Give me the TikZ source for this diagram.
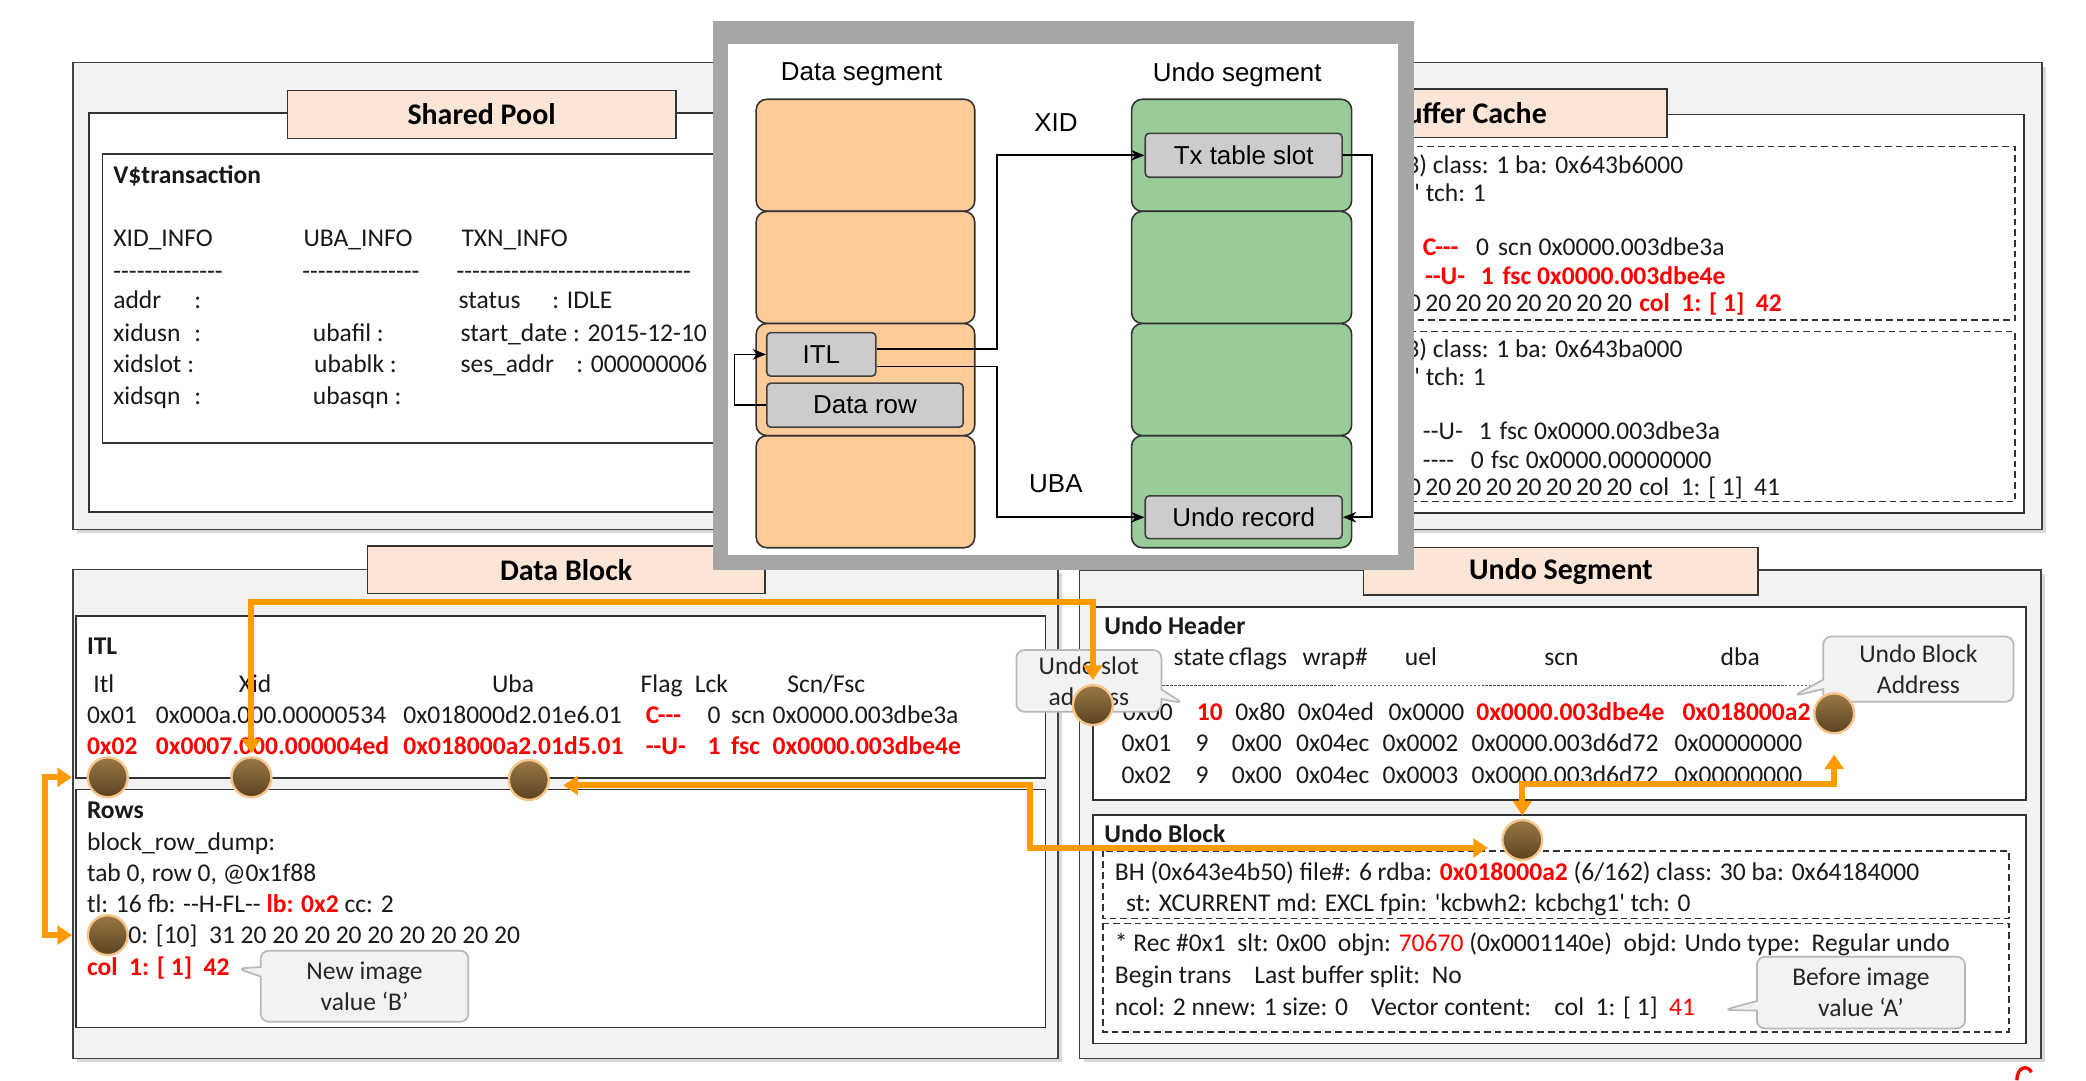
\documentclass[tikz,border=0pt]{standalone}
\usepackage{fontspec}
\newfontfamily\calf{Carlito}
\newfontfamily\arialf{Liberation Sans}
\usetikzlibrary{calc}
\usetikzlibrary{arrows.meta}
\usetikzlibrary{shapes.callouts,shadows}

\definecolor{panelgray}{HTML}{F2F2F2}
\definecolor{tabpeach}{HTML}{FBE5D6}
\definecolor{hotred}{HTML}{FF0000}
\definecolor{orangeC}{HTML}{FF9A00}
\definecolor{ballhi}{HTML}{9A7845}
\definecolor{balllo}{HTML}{5A4220}
\definecolor{ballrim}{HTML}{F6C58A}
\definecolor{segorange}{HTML}{FFCC99}
\definecolor{seggreen}{HTML}{99CC99}
\definecolor{boxgray}{HTML}{CCCCCC}
\definecolor{framegray}{HTML}{A6A6A6}

\newcommand{\fld}[2]{\makebox[#1pt][l]{#2}}
\newcommand{\hot}[1]{{\color{hotred}\bfseries #1}}
\newcommand{\redt}[1]{{\color{hotred}#1}}

\tikzset{
  panel/.style={draw=black!75, fill=panelgray, line width=1.3pt,
    drop shadow={shadow xshift=3pt, shadow yshift=-3pt, opacity=.3}},
  inbox/.style={draw=black!80, fill=white, line width=1.3pt},
  dashbox/.style={draw=black!80, line width=1.2pt, dash pattern=on 5pt off 3pt},
  tab/.style={draw=black!80, fill=tabpeach, line width=1.2pt,
    font=\calf\bfseries\fontsize{22.5}{26}\selectfont},
  tx/.style={anchor=west, inner sep=0pt, text height=12pt, text depth=2pt,
    text=black!90, font=\calf\fontsize{19.2}{22}\selectfont},
  bt/.style={tx, font=\calf\bfseries\fontsize{19.2}{22}\selectfont},
  hottx/.style={tx, text=hotred, font=\calf\bfseries\fontsize{19.2}{22}\selectfont},
  callbox/.style={rectangle callout, rounded corners=6pt, draw=black!28, fill=panelgray,
    line width=1.3pt, align=center, inner sep=0pt, text=black!85,
    font=\calf\fontsize{19.2}{23.5}\selectfont},
  ball/.style={circle, minimum size=30pt, inner sep=0pt, draw=ballrim, line width=1.8pt,
    top color=ballhi, bottom color=balllo},
  orangeline/.style={draw=orangeC, line width=4.5pt,
    {Triangle[length=11pt,width=14pt]}-{Triangle[length=11pt,width=14pt]}},
  segblk/.style={draw=black!80, line width=1.2pt, rounded corners=8pt},
  gbox/.style={draw=black!75, fill=boxgray, line width=1.2pt, rounded corners=3pt,
    font=\arialf\fontsize{19.5}{22}\selectfont},
  segtitle/.style={font=\arialf\fontsize{19.5}{22}\selectfont, inner sep=0pt},
  segarrow/.style={draw=black, line width=1.2pt, -{Stealth[length=10pt,width=8pt]}},
}

\begin{document}
\begin{tikzpicture}[x=1pt,y=-1pt]
\fill[white] (0,0) rectangle (1568,812);
\useasboundingbox (0,0) rectangle (1568,812);

% shared pool
\draw[panel] (55,47) rectangle (790,398);
\draw[inbox] (67,85) rectangle (780,385);
\node[tab, minimum width=292pt, minimum height=36pt] (sptab) at (362,86) {Shared Pool};
\draw[inbox] (77,116) rectangle (770,333);
\node[bt] (vtx) at (85,133) {V\$transaction};
\node[tx] (sphead) at (85,180.6) {\fld{143}{XID\_INFO}\fld{118.7}{UBA\_INFO}TXN\_INFO};
\node[tx] (spdash) at (85,205) {\fld{142}{--------------}\fld{116}{---------------}------------------------------};
\node[tx] (spaddr) at (85,227) {\fld{259.5}{\fld{61}{addr}:}\fld{70.5}{status}: IDLE};
\node[tx] (spusn) at (85,252) {\fld{150}{\fld{61}{xidusn}:}\fld{111}{ubafil :}start\_date : 2015-12-10};
\node[tx] (spslot) at (85,275) {\fld{151}{xidslot :}\fld{110}{ubablk :}\fld{87}{ses\_addr}: 000000006};
\node[tx] (spsqn) at (85,299) {\fld{150}{\fld{61}{xidsqn}:}ubasqn :};

% buffer cache
\draw[panel] (800,47) rectangle (1535,398);
\draw[inbox] (812,86) rectangle (1521.5,385.8);
\node[tab, minimum width=298.5pt, minimum height=36.4pt] (bctab) at (1103.7,85.3) {Buffer Cache};
\draw[dashbox, fill=white] (820,110.2) rectangle (1514.6,240.5);
\draw[dashbox, fill=white] (820,249.3) rectangle (1514.6,377);
\node[tx] (bc1) at (1057,125.3) {3) class: 1 ba: 0x643b6000};
\node[tx] (bc2) at (1063,146.5) {' tch: 1};
\node[tx] (bc3) at (1069.4,187.4) {\fld{39.9}{\hot{C---}}\fld{16.6}{0}\fld{30.5}{scn}0x0000.003dbe3a};
\node[hottx] (bc4) at (1071,208.7) {\fld{42}{--U-}\fld{16.3}{1}\fld{26}{fsc}0x0000.003dbe4e};
\node[tx] (bc5) at (1048.5,229.2) {\fld{183.5}{20\,20\,20\,20\,20\,20\,20\,20}\hot{col~~1: [ 1]~~42}};
\node[tx] (bc6) at (1057,263.5) {3) class: 1 ba: 0x643ba000};
\node[tx] (bc7) at (1063,284.8) {' tch: 1};
\node[tx] (bc8) at (1069.4,325.7) {\fld{42}{--U-}\fld{15.6}{1}\fld{26}{fsc}0x0000.003dbe3a};
\node[tx] (bc9) at (1069.4,347) {\fld{36}{----}\fld{15.3}{0}\fld{26}{fsc}0x0000.00000000};
\node[tx] (bc10) at (1048.5,367.7) {\fld{183.5}{20\,20\,20\,20\,20\,20\,20\,20}col~~1: [ 1]~~41};

% data block
\draw[panel] (54.7,428) rectangle (795.3,795.6);
\node[tab, minimum width=298.7pt, minimum height=35.6pt] (dbtab) at (425.5,428.2) {Data Block};
\draw[inbox] (57.1,463) rectangle (785.8,584.6);
\draw[inbox] (57.1,593.4) rectangle (785.8,772.3);
\node[bt] (itlt) at (65.2,487.3) {ITL};
\node[tx] (itlhd) at (70,515.4) {\fld{109.3}{Itl}\fld{190.4}{Xid}\fld{111.7}{Uba}\fld{40.7}{Flag}\fld{69.5}{Lck}Scn/Fsc};
\node[tx] (itl1) at (65.2,539.2) {\fld{51.8}{0x01}\fld{186}{0x000a.000.00000534}\fld{182.2}{0x018000d2.01e6.01}\fld{46.5}{\hot{C---}}\fld{17.7}{0}\fld{31.2}{scn}0x0000.003dbe3a};
\node[hottx] (itl2) at (65.2,562.5) {\fld{51.8}{0x02}\fld{186}{0x0007.000.000004ed}\fld{182.2}{0x018000a2.01d5.01}\fld{46.5}{--U-}\fld{17.7}{1}\fld{31.2}{fsc}0x0000.003dbe4e};
\node[bt] (rowst) at (65.2,610.1) {Rows};
\node[tx] (rd1) at (65.2,634) {block\_row\_dump:};
\node[tx] (rd2) at (65.2,657.3) {tab 0, row 0, @0x1f88};
\node[tx] (rd3) at (65.2,681.1) {tl: 16 fb: --H-FL-- \hot{lb: 0x2} cc: 2};
\node[tx] (rd4) at (65.2,704.1) {col~~0: [10]~~31 20 20 20 20 20 20 20 20 20};
\node[hottx] (rd5) at (65.2,727.9) {col~~1: [ 1]~~42};
\node[callbox, callout absolute pointer={(178.4,728)}, minimum width=156pt, minimum height=53.4pt] (newimg) at (274,741.3) {New image\\value ‘B’};

% undo segment
\draw[panel] (811.5,428.5) rectangle (1534.1,795.6);
\node[tab, minimum width=296.6pt, minimum height=35.9pt] (ustab) at (1173.3,429.35) {Undo Segment};
\draw[inbox] (821.5,456) rectangle (1523,601.4);
\node[bt] (uht) at (830,471.6) {Undo Header};
\node[tx] (uhhd) at (882,495.4) {\fld{41.3}{state}\fld{55.7}{cflags}\fld{76.9}{wrap\#}\fld{104.8}{uel}\fld{132.5}{scn}dba};
\draw[black!70, line width=0.8pt, dash pattern=on 2pt off 1pt] (873.6,515.4) -- (1360,515.4);
\node[tx] (uh0) at (843.8,536.7) {\fld{55.6}{0x00}\fld{28.9}{\hot{10}}\fld{47.1}{0x80}\fld{68.1}{0x04ed}\fld{66}{0x0000}\fld{155}{\hot{0x0000.003dbe4e}}\hot{0x018000a2}};
\node[tx] (uh1) at (842.8,560) {\fld{55.7}{0x01}\fld{27.3}{9}\fld{48.2}{0x00}\fld{65}{0x04ec}\fld{67}{0x0002}\fld{152.5}{0x0000.003d6d72}0x00000000};
\node[tx] (uh2) at (842.8,583.8) {\fld{55.7}{0x02}\fld{27.3}{9}\fld{48.2}{0x00}\fld{65}{0x04ec}\fld{67}{0x0003}\fld{152.5}{0x0000.003d6d72}0x00000000};
\draw[inbox] (821.5,612.6) rectangle (1523,784.3);
\node[bt] (ubt) at (830,628.4) {Undo Block};
\draw[dashbox] (829,639.5) rectangle (1510,690.3);
\draw[dashbox] (829,694.1) rectangle (1510,775.5);
\node[tx] (ub1) at (837.9,656.5) {BH (0x643e4b50) file\#: 6 rdba: \hot{0x018000a2} (6/162) class: 30 ba: 0x64184000};
\node[tx] (ub2) at (846.3,680.3) {st: XCURRENT md: EXCL fpin: 'kcbwh2: kcbchg1' tch: 0};
\node[tx] (ub3) at (837.9,710.4) {* Rec \#0x1~~slt: 0x00~~objn: \redt{70670} (0x0001140e)~~objd: Undo type:~~Regular undo};
\node[tx] (ub4) at (837.9,734.2) {Begin trans~~~~Last buffer split:~~No};
\node[tx] (ub5) at (837.9,758) {ncol: 2 nnew: 1 size: 0~~~~Vector content:~~~~col~~1: [ 1]~~\redt{41}};
\node[callbox, callout absolute pointer={(889.6,528.7)}, minimum width=109pt, minimum height=46.4pt] (slotcall) at (818.5,511.8) {Undo slot\\address};
\node[callbox, callout absolute pointer={(1348,523.2)}, minimum width=143pt, minimum height=49pt] (dbacall) at (1442,503) {Undo Block\\Address};
\node[callbox, callout absolute pointer={(1295.7,759.2)}, minimum width=156.4pt, minimum height=53.8pt] (befcall) at (1398.8,746.1) {Before image\\value ‘A’};

% orange links
\coordinate (xidbend) at (500,452.3);
\coordinate (ubabend) at (774,610);
\coordinate (dbabend) at (1260,589);
\coordinate (rowbend) at (34,640);
\node[ball] (itlc) at (81,584.3) {};
\node[ball] (xidc) at (189,584.3) {};
\node[ball] (ubac) at (397.5,586.3) {};
\node[ball] (rowc) at (81,702.9) {};
\node[ball] (slotc) at (821.5,530) {};
\node[ball] (dbac) at (1378.7,536.2) {};
\node[ball] (ubkc) at (1144.3,631.4) {};
\draw[orangeline, shorten <=2pt, shorten >=3pt] (xidc.north) |- (xidbend) -| (slotc.north);
\draw[orangeline, shorten <=10pt, shorten >=10pt] ([yshift=-4pt]ubac.east) -| (ubabend) |- ([yshift=-6pt]ubkc.west);
\draw[orangeline, shorten <=2.5pt, shorten >=15pt] (ubkc.north) |- (dbabend) -| (dbac.south);
\draw[orangeline, shorten <=11pt, shorten >=11pt] (itlc.west) -| (rowbend) |- (rowc.west);
\draw[hotred, line width=2.5pt] (1516,812) .. controls (1516,802) and (1524,800) .. (1527,806);

% segment overlay
\fill[framegray] (536,15.5) rectangle (1063,428.5);
\fill[white] (547,33) rectangle (1050.5,417.5);
\node[segtitle] (dst) at (647.7,55.9) {Data segment};
\node[segtitle] (ust) at (930,55.9) {Undo segment};
\foreach \y in {74.6,158.9,243.2,327.5} {
 \draw[segblk, fill=segorange] (568.4,\y) rectangle (732.7,\y+84.2);
 \draw[segblk, fill=seggreen] (850.6,\y) rectangle (1016,\y+84.2);
}
\node[gbox, minimum width=82pt, minimum height=32.7pt] (itl) at (617.35,266.35) {ITL};
\node[gbox, minimum width=147.6pt, minimum height=33.1pt] (datarow) at (650.2,304.55) {Data row};
\node[gbox, minimum width=148pt, minimum height=33pt] (txslot) at (934.85,116.7) {Tx table slot};
\node[gbox, minimum width=148pt, minimum height=32.2pt] (undorec) at (934.85,388.8) {Undo record};
\node[segtitle] (xidl) at (793.7,92.1) {XID};
\node[segtitle] (ubal) at (793.7,363.3) {UBA};
\coordinate (xidturn) at (749.6,190);
\coordinate (ubaturn) at (749.6,330);
\coordinate (slotturn) at (1031.2,250);
\coordinate (rowturn) at (552.2,285);
\draw[segarrow] ([yshift=4pt]itl.east) -| (xidturn) |- (txslot.west);
\draw[segarrow] ([yshift=-9pt]itl.east) -| (ubaturn) |- (undorec.west);
\draw[segarrow] (txslot.east) -| (slotturn) |- (undorec.east);
\draw[segarrow] (datarow.west) -| (rowturn) |- (itl.west);
\end{tikzpicture}
\end{document}
